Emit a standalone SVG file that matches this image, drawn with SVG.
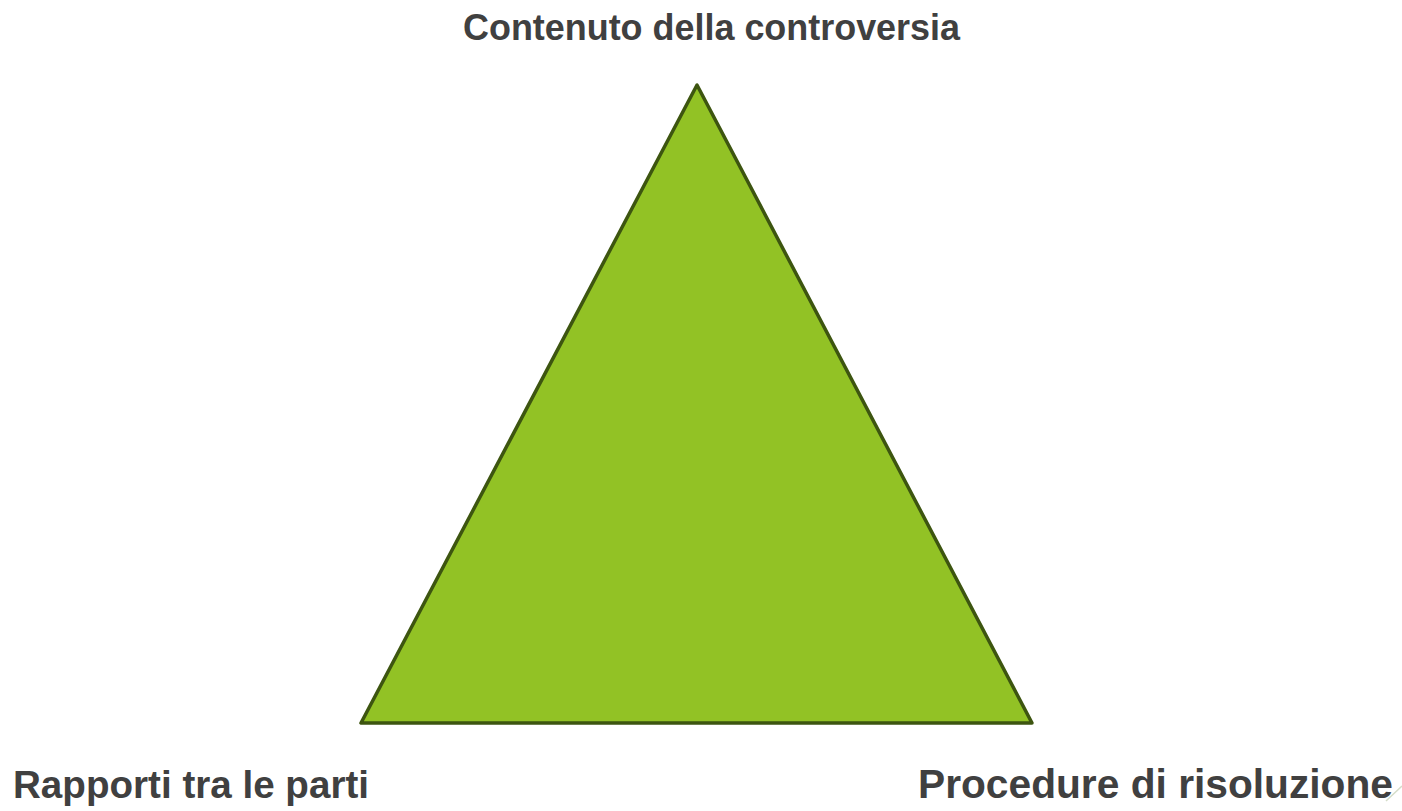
<svg xmlns="http://www.w3.org/2000/svg" width="1402" height="811" viewBox="0 0 1402 811">
<style>
.lbl{font-family:"Liberation Sans",Arial,sans-serif;font-weight:bold;fill:#404040}
</style>
<rect width="1402" height="811" fill="#ffffff"/>
<g id="triangle">
<polygon points="697,85 361,723 1032,723" fill="#92c225" stroke="#3d5510" stroke-width="3.5" stroke-linejoin="round"/>
</g>
<g id="connectors"></g>
<g id="label-top"><text class="lbl" x="463" y="40" font-size="36" textLength="497" lengthAdjust="spacingAndGlyphs">Contenuto della controversia</text></g>
<g id="label-left"><text class="lbl" x="13" y="798" font-size="39" textLength="356" lengthAdjust="spacingAndGlyphs">Rapporti tra le parti</text></g>
<g id="label-right"><text class="lbl" x="918" y="798" font-size="40" textLength="475" lengthAdjust="spacingAndGlyphs">Procedure di risoluzione</text></g>
<line x1="1386" y1="801" x2="1402" y2="786" stroke="#d4dcc8" stroke-width="1.5"/>
</svg>
